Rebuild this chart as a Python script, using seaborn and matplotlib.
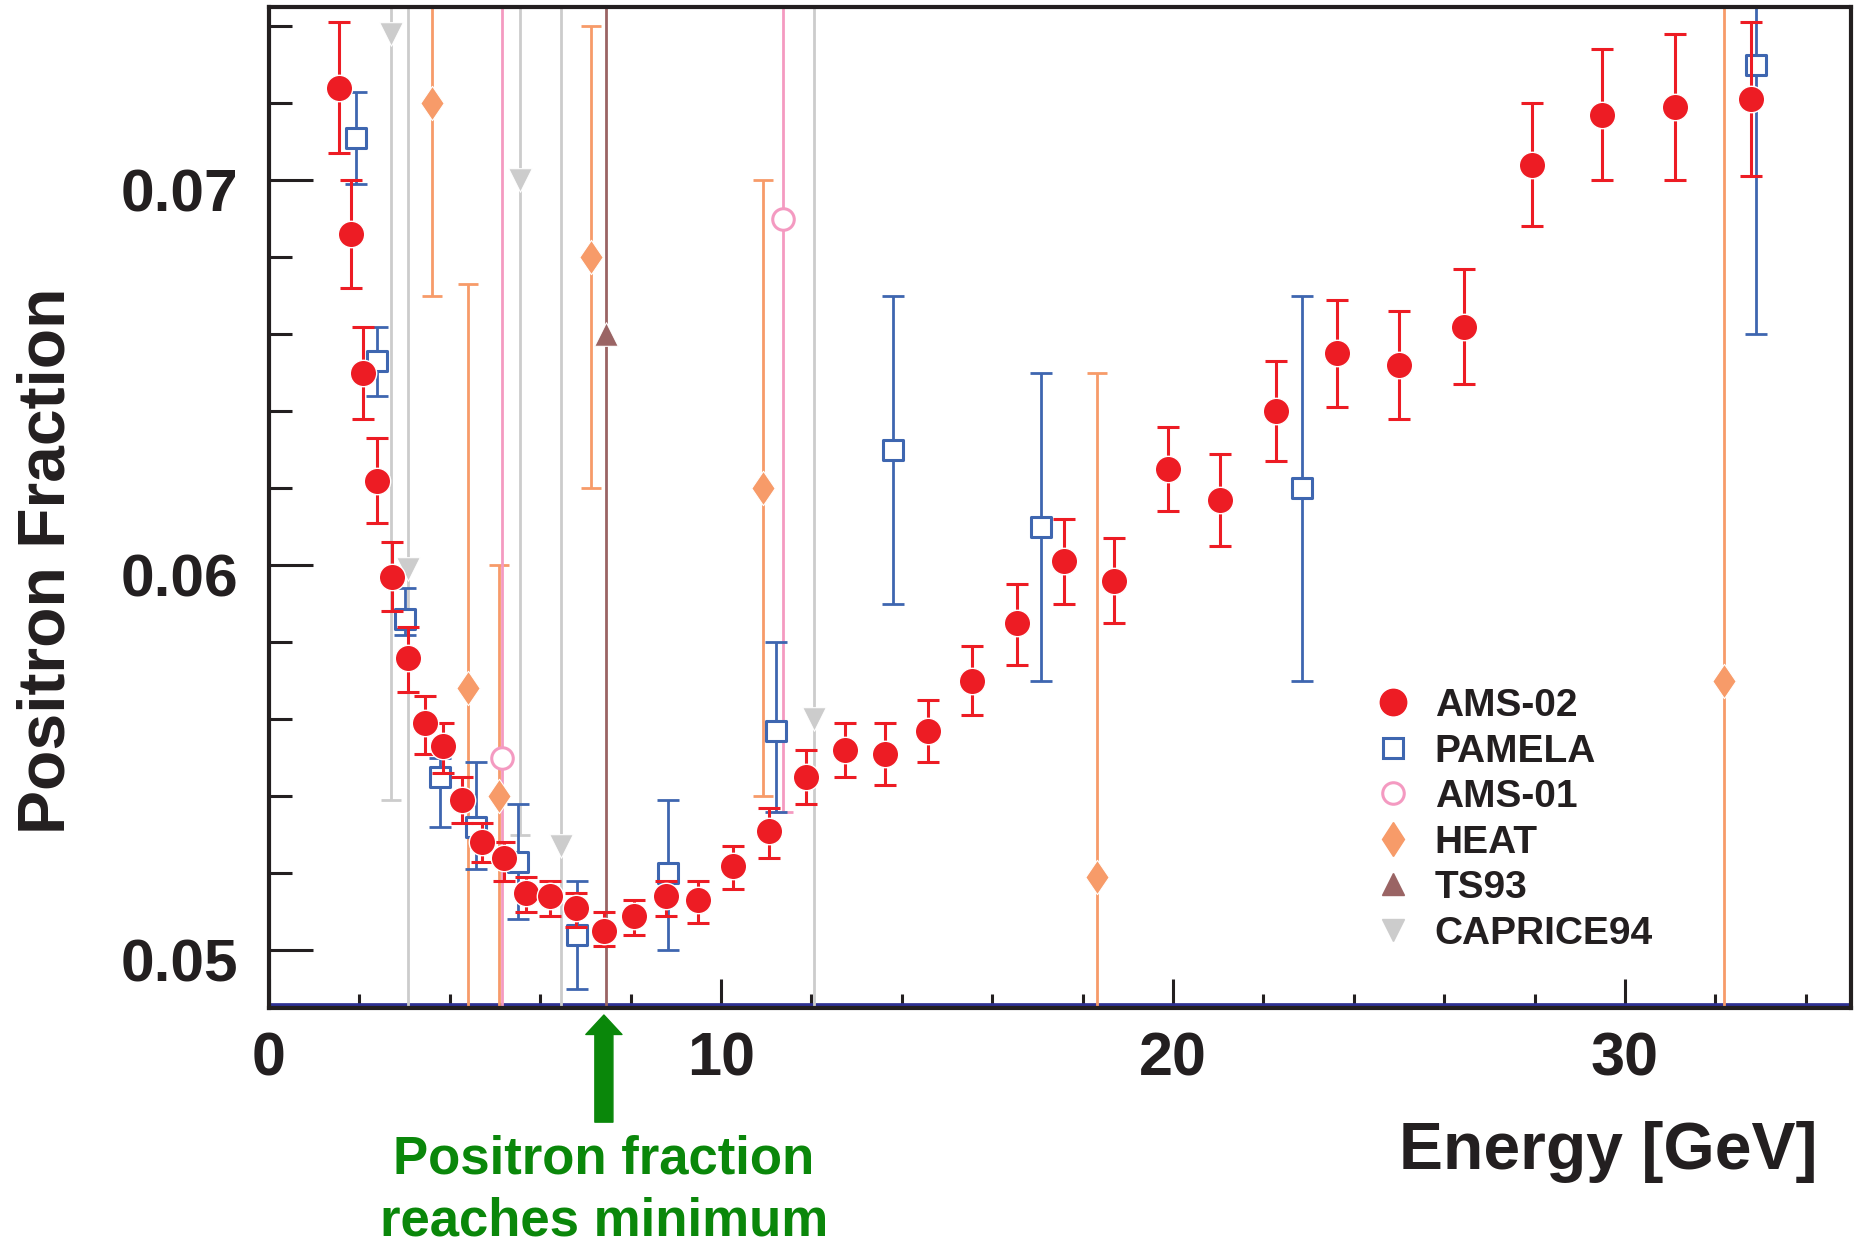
import numpy as np
import pandas as pd
import matplotlib
matplotlib.use("Agg")
import matplotlib.pyplot as plt
from matplotlib.lines import Line2D
from matplotlib.markers import MarkerStyle
from matplotlib.transforms import ScaledTranslation, Affine2D
from matplotlib.ticker import MultipleLocator, FixedLocator, FixedFormatter
import seaborn as sns

# ---------------- data ----------------
ams02_x = [1.54, 1.81, 2.09, 2.40, 2.72, 3.08, 3.45, 3.86, 4.28, 4.72, 5.19, 5.69, 6.22, 6.79,
           7.41, 8.08, 8.78, 9.50, 10.27, 11.06, 11.88, 12.74, 13.64, 14.57, 15.55, 16.55, 17.60,
           18.70, 19.90, 21.05, 22.27, 23.62, 25.00, 26.44, 27.95, 29.50, 31.10, 32.80]
ams02_y = [0.0724, 0.0686, 0.0650, 0.0622, 0.0597, 0.0576, 0.0559, 0.0553, 0.0539, 0.0528, 0.0524,
           0.0515, 0.0514, 0.0511, 0.0505, 0.0509, 0.0514, 0.0513, 0.0522, 0.0531, 0.0545, 0.0552,
           0.0551, 0.0557, 0.0570, 0.0585, 0.0601, 0.0596, 0.0625, 0.0617, 0.0640, 0.0655, 0.0652,
           0.0662, 0.0704, 0.0717, 0.0719, 0.0721]
ams02_lo = [0.0707, 0.0672, 0.0638, 0.0611, 0.0588, 0.0567, 0.0551, 0.0546, 0.0533, 0.0523, 0.0518,
            0.0510, 0.0509, 0.0506, 0.0501, 0.0504, 0.0509, 0.0507, 0.0516, 0.0524, 0.0538, 0.0545,
            0.0543, 0.0549, 0.0561, 0.0574, 0.0590, 0.0585, 0.0614, 0.0605, 0.0627, 0.0641, 0.0638,
            0.0647, 0.0688, 0.0700, 0.0700, 0.0701]
ams02_hi = [0.0741, 0.0700, 0.0662, 0.0633, 0.0606, 0.0584, 0.0566, 0.0559, 0.0545, 0.0533, 0.0528,
            0.0519, 0.0518, 0.0515, 0.0510, 0.0513, 0.0518, 0.0518, 0.0527, 0.0537, 0.0552, 0.0559,
            0.0559, 0.0565, 0.0579, 0.0595, 0.0612, 0.0607, 0.0636, 0.0629, 0.0653, 0.0669, 0.0666,
            0.0677, 0.0720, 0.0734, 0.0738, 0.0741]

pamela_x = [1.92, 2.38, 3.02, 3.78, 4.59, 5.50, 6.81, 8.83, 11.22, 13.81, 17.09, 22.86, 32.90]
pamela_y = [0.0711, 0.0653, 0.0586, 0.0545, 0.0532, 0.0523, 0.0504, 0.0520, 0.0557, 0.0630, 0.0610,
            0.0620, 0.0730]
pamela_lo = [0.0699, 0.0644, 0.0582, 0.0532, 0.0521, 0.0508, 0.0490, 0.0500, 0.0536, 0.0590, 0.0570,
             0.0570, 0.0660]
pamela_hi = [0.0723, 0.0662, 0.0594, 0.0550, 0.0549, 0.0538, 0.0518, 0.0539, 0.0580, 0.0670, 0.0650,
             0.0670, 0.0800]

ams01_x = [5.15, 11.38]
ams01_y = [0.0550, 0.0690]
ams01_lo = [0.0420, 0.0536]
ams01_hi = [0.0800, 0.0800]

heat_x = [3.60, 4.41, 5.10, 7.13, 10.92, 18.33, 32.20]
heat_y = [0.0720, 0.0568, 0.0540, 0.0680, 0.0620, 0.0519, 0.0570]
heat_lo = [0.0670, 0.0420, 0.0420, 0.0620, 0.0540, 0.0420, 0.0420]
heat_hi = [0.0800, 0.0673, 0.0600, 0.0740, 0.0700, 0.0650, 0.0800]

ts93_x = [7.45]
ts93_y = [0.0660]
ts93_lo = [0.0420]
ts93_hi = [0.0800]

caprice_x = [2.71, 3.08, 5.55, 6.47, 12.05]
caprice_y = [0.0738, 0.0599, 0.0700, 0.0527, 0.0560]
caprice_lo = [0.0539, 0.0420, 0.0530, 0.0420, 0.0420]
caprice_hi = [0.0800, 0.0800, 0.0800, 0.0800, 0.0800]

labels = ["AMS-02", "PAMELA", "AMS-01", "HEAT", "TS93", "CAPRICE94"]
x_ticks = [0, 10, 20, 30]
x_ticklabels = ["0", "10", "20", "30"]
y_ticks = [0.05, 0.06, 0.07]
y_ticklabels = ["0.05", "0.06", "0.07"]

# ---------------- style ----------------
RED = "#ED1C24"
BLUE = "#3E66B0"
PINK = "#F49AC1"
ORANGE = "#F79B69"
BROWN = "#9A6464"
GRAY = "#CCCCCC"
GREEN = "#0A870A"
INK = "#231F20"
NAVY = "#2E3192"

XMIN, XMAX = 0.0, 35.0
YMIN, YMAX = 0.0485, 0.0745

DIAMOND = MarkerStyle("D", transform=Affine2D().scale(0.68, 1.0))

sns.set_theme(style="ticks")
plt.rcParams["font.family"] = ["Liberation Sans", "DejaVu Sans"]
plt.rcParams["font.weight"] = "bold"
plt.rcParams["axes.labelweight"] = "bold"

fig = plt.figure(figsize=(18.55, 12.46), dpi=100)
ax = fig.add_axes([0.1450, 0.1910, 0.8528, 0.8034])
ax.set_xlim(XMIN, XMAX)
ax.set_ylim(YMIN, YMAX)

series = [
    # x, y, lo, hi, marker, size, face, edge, edgewidth, errcolor, elw, cap, z
    (caprice_x, caprice_y, caprice_lo, caprice_hi, "v", 17, GRAY, "white", 0.8, GRAY, 2.0, 7, 2),
    (ts93_x, ts93_y, ts93_lo, ts93_hi, "^", 17, BROWN, "white", 0.8, BROWN, 2.0, 7, 2.2),
    (heat_x, heat_y, heat_lo, heat_hi, DIAMOND, 17.5, ORANGE, "white", 0.8, ORANGE, 2.0, 7, 2.4),
    (ams01_x, ams01_y, ams01_lo, ams01_hi, "o", 15.5, "white", PINK, 2.2, PINK, 2.0, 7, 2.6),
    (pamela_x, pamela_y, pamela_lo, pamela_hi, "s", 15, "white", BLUE, 2.2, BLUE, 2.0, 8, 3),
    (ams02_x, ams02_y, ams02_lo, ams02_hi, "o", 19, RED, "white", 1.0, RED, 2.2, 8, 5),
]

for xs, ys, lo, hi, mk, ms, fc, ec, ew, errc, elw, cap, z in series:
    xs = np.asarray(xs)
    ys = np.asarray(ys)
    lo_c = np.clip(np.asarray(lo), YMIN, YMAX)
    hi_c = np.clip(np.asarray(hi), YMIN, YMAX)
    ax.errorbar(xs, ys, yerr=[ys - lo_c, hi_c - ys], fmt="none", ecolor=errc,
                elinewidth=elw, capsize=cap, capthick=elw, zorder=z)
    df = pd.DataFrame({"energy": xs, "fraction": ys})
    sns.scatterplot(data=df, x="energy", y="fraction", ax=ax, marker=mk, s=ms ** 2,
                    color=fc, edgecolor=ec, linewidth=ew, zorder=z + 0.5, legend=False)

# navy inner line along the bottom frame
ax.axhline(YMIN, color=NAVY, lw=7, zorder=1.5)

# axes frame and ticks
for side in ["left", "right", "top", "bottom"]:
    ax.spines[side].set_visible(True)
    ax.spines[side].set_color(INK)
    ax.spines[side].set_linewidth(3)
    ax.spines[side].set_zorder(20)

ax.xaxis.set_major_locator(FixedLocator(x_ticks))
ax.xaxis.set_major_formatter(FixedFormatter(x_ticklabels))
ax.xaxis.set_minor_locator(MultipleLocator(2))
ax.yaxis.set_major_locator(FixedLocator(y_ticks))
ax.yaxis.set_major_formatter(FixedFormatter(y_ticklabels))
ax.yaxis.set_minor_locator(MultipleLocator(0.002))

ax.tick_params(axis="x", which="major", direction="in", length=21, width=2.2, color=INK,
               labelsize=44, labelcolor=INK, pad=17, top=False, bottom=True)
ax.tick_params(axis="x", which="minor", direction="in", length=10, width=2.2, color=INK,
               top=False, bottom=True)
ax.tick_params(axis="y", which="major", direction="in", length=32, width=2.2, color=INK,
               labelsize=43.5, labelcolor=INK, pad=22, left=True, right=False)
ax.tick_params(axis="y", which="minor", direction="in", length=16.5, width=2.2, color=INK,
               left=True, right=False)
for lab in ax.get_xticklabels() + ax.get_yticklabels():
    lab.set_fontweight("bold")
# the reference's y tick labels sit slightly below their ticks
shift = ScaledTranslation(0, -0.10, fig.dpi_scale_trans)
for lab in ax.get_yticklabels():
    lab.set_transform(lab.get_transform() + shift)

ax.set_xlabel("Energy [GeV]", fontsize=47.5, fontweight="bold", color=INK, ha="right", va="baseline")
ax.xaxis.set_label_coords(0.979, -0.1608)
ax.set_ylabel("Positron Fraction", fontsize=47.5, fontweight="bold", color=INK)
ax.yaxis.set_label_coords(-0.1205, 0.4466)

# legend
handles = [
    Line2D([], [], ls="none", marker="o", ms=19, mfc=RED, mec=RED),
    Line2D([], [], ls="none", marker="s", ms=15, mfc="white", mec=BLUE, mew=2.2),
    Line2D([], [], ls="none", marker="o", ms=15.5, mfc="white", mec=PINK, mew=2.2),
    Line2D([], [], ls="none", marker=DIAMOND, ms=17, mfc=ORANGE, mec=ORANGE),
    Line2D([], [], ls="none", marker="^", ms=16.5, mfc=BROWN, mec=BROWN),
    Line2D([], [], ls="none", marker="v", ms=16.5, mfc=GRAY, mec=GRAY),
]
leg = ax.legend(handles, labels, loc="center left", bbox_to_anchor=(0.698, 0.188),
                frameon=False, fontsize=28, handlelength=1.0, handletextpad=0.58,
                labelspacing=0.245, borderpad=0, borderaxespad=0)
for t in leg.get_texts():
    t.set_color(INK)
    t.set_fontweight("bold")
leg.set_zorder(30)

# annotation of the minimum
imin = int(np.argmin(ams02_y))
xm = ams02_x[imin]
ax.annotate("", xy=(xm, -0.007), xycoords=("data", "axes fraction"),
            xytext=(xm, -0.114), textcoords=("data", "axes fraction"),
            arrowprops=dict(arrowstyle="simple,head_length=0.7,head_width=1.3,tail_width=0.65",
                            fc=GREEN, ec=GREEN, shrinkA=0, shrinkB=0, mutation_scale=20),
            annotation_clip=False)
trans = ax.get_xaxis_transform()
ax.text(xm, -0.1658, "Positron fraction", transform=trans, ha="center", va="baseline",
        fontsize=38, fontweight="bold", color=GREEN, clip_on=False)
ax.text(xm, -0.2268, "reaches minimum", transform=trans, ha="center", va="baseline",
        fontsize=38, fontweight="bold", color=GREEN, clip_on=False)

fig.savefig("out.png", dpi=100)
